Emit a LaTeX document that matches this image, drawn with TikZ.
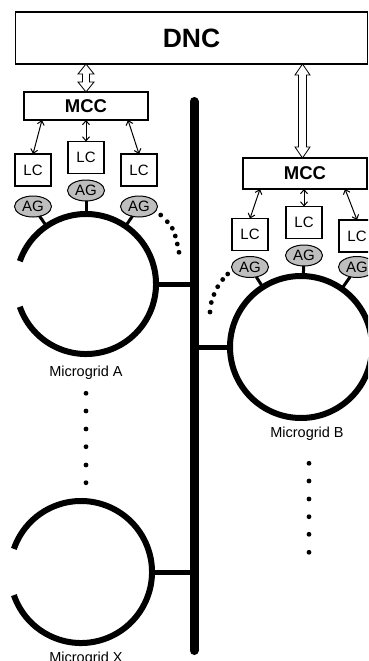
\documentclass[tikz,border=0pt]{standalone}
\usepackage{fontspec}
\setmainfont{Liberation Sans}
\usetikzlibrary{calc,arrows.meta,shapes.geometric}
\definecolor{aggray}{RGB}{190,190,190}
\begin{document}
\begin{tikzpicture}[x=1pt,y=-1pt,
  box/.style={draw, line width=1.1pt, fill=white, inner sep=0pt, outer sep=0pt},
  lcbox/.style={box, minimum width=36pt, minimum height=32pt, font=\fontsize{15}{15}\selectfont},
  agnode/.style={ellipse, draw, line width=1pt, fill=aggray, minimum width=37pt, minimum height=21pt, inner sep=0pt, outer sep=0pt, font=\fontsize{15}{15}\selectfont},
  mccbox/.style={box, minimum width=124pt, font=\fontsize{18.5}{18.5}\selectfont\bfseries},
  gridshape/.style={circle, draw=none, inner sep=0pt, outer sep=0pt},
  ring/.style={line width=6pt},
  tie/.style={line width=5pt},
  stem/.style={line width=3pt},
  ctl/.style={line width=1pt, {Straight Barb[length=4pt,width=7pt]}-{Straight Barb[length=4pt,width=7pt]}},
  hollow/.style={draw, fill=white, line width=0.8pt, line join=miter},
  gridlabel/.style={anchor=base, font=\fontsize{14.5}{14.5}\selectfont},
  bigdot/.style={fill=black}
]
\useasboundingbox (0,0) rectangle (368,661);
\clip (0,0) rectangle (368,661);

% DNC
\node[box, minimum width=352pt, minimum height=52pt, font=\fontsize{26.5}{26.5}\selectfont\bfseries] (dnc) at (191.5,38) {DNC};

% MCCs
\node[mccbox, minimum height=28pt] (mccA) at (86,106) {MCC};
\node[mccbox, minimum height=31pt] (mccB) at (305,173.5) {MCC};

% Bus
\coordinate (busT) at (194,101.5);
\coordinate (busB) at (194,650.5);
\draw[line width=9pt, line cap=round] (busT) -- (busB);

% Hollow double arrows
\coordinate (hA1) at (mccA.north |- dnc.south);
\coordinate (hA2) at (mccA.north);
\path[hollow] (hA1) -- ($(hA1)+(8,10)$) -- ($(hA1)+(3.5,10)$) -- ($(hA2)+(3.5,-10)$) -- ($(hA2)+(8,-10)$) -- (hA2)
  -- ($(hA2)+(-8,-10)$) -- ($(hA2)+(-3.5,-10)$) -- ($(hA1)+(-3.5,10)$) -- ($(hA1)+(-8,10)$) -- cycle;
\coordinate (hB2) at ($(mccB.north)+(-2.5,0)$);
\coordinate (hB1) at (hB2 |- dnc.south);
\path[hollow] (hB1) -- ($(hB1)+(7.5,11)$) -- ($(hB1)+(4,11)$) -- ($(hB2)+(4,-11)$) -- ($(hB2)+(7.5,-11)$) -- (hB2)
  -- ($(hB2)+(-7.5,-11)$) -- ($(hB2)+(-4,-11)$) -- ($(hB1)+(-4,11)$) -- ($(hB1)+(-7.5,11)$) -- cycle;

% Microgrid shapes
\node[gridshape, minimum size=140pt] (gA) at (86,284) {};
\node[gridshape, minimum size=142pt] (gB) at (301,347) {};
\node[gridshape, minimum size=142pt] (gX) at (81,572) {};
\draw[ring] (gA.center) ++(161:70) arc[start angle=161, end angle=-161, radius=70];
\draw[ring] (gX.center) ++(161:71) arc[start angle=161, end angle=-161, radius=71];
\draw[ring] (gB.center) circle[radius=71];

% ties to bus
\draw[tie] (gA.east) -- (gA.east -| busT);
\draw[tie] (gX.east) -- (gX.east -| busT);
\draw[tie] (gB.west) -- (gB.west -| busT);

% LCs A
\node[lcbox] (lcA1) at (33,170) {LC};
\node[lcbox] (lcA2) at (86,157.5) {LC};
\node[lcbox] (lcA3) at (139,170) {LC};
% LCs B
\node[lcbox] (lcB1) at (250,234.5) {LC};
\node[lcbox] (lcB2) at (304,222.5) {LC};
\node[lcbox] (lcB3) at (357,236) {LC};

% control arrows
\draw[ctl] ($(mccA.south)+(-44,0)$) -- (lcA1.north);
\draw[ctl] (mccA.south) -- (lcA2.north);
\draw[ctl] ($(mccA.south)+(42,0)$) -- (lcA3.north);
\draw[ctl] ($(mccB.south)+(-45,0)$) -- (lcB1.north);
\draw[ctl] (lcB2.north |- mccB.south) -- (lcB2.north);
\draw[ctl] ($(mccB.south)+(40,0)$) -- (lcB3.north);

% AGs
\node[agnode] (agA1) at (33,206.5) {AG};
\node[agnode] (agA2) at (86,190.5) {AG};
\node[agnode] (agA3) at (139,206.5) {AG};
\node[agnode] (agB1) at (250,267) {AG};
\node[agnode] (agB2) at (304,255.5) {AG};
\node[agnode] (agB3) at (357,267) {AG};

% stems
\foreach \g/\a in {gA/agA1, gA/agA2, gA/agA3}
  \draw[stem] (\a) -- ($(\g.center)!70pt!(\a.center)$);
\foreach \g/\a in {gB/agB1, gB/agB2, gB/agB3}
  \draw[stem] (\a) -- ($(\g.center)!71pt!(\a.center)$);

% dotted arcs
\foreach \p in {(160.7,215),(167.3,221.7),(172.3,228.3),(175.3,236),(177.3,244),(179,252.3)}
  \fill[bigdot] \p circle[radius=2.4];
\foreach \p in {(227.7,274),(222.7,279.5),(217.7,286.7),(214,294.5),(211.3,302.5),(210,312)}
  \fill[bigdot] \p circle[radius=2.4];

% vertical dots
\foreach \y in {393.3,411,429,446.7,465,482.7}
  \fill[bigdot] (86,\y) circle[radius=2.4];
\foreach \y in {463.3,481,499,516.7,534.3,552.3}
  \fill[bigdot] (309,\y) circle[radius=2.4];

% labels
\node[gridlabel] (labA) at (86,376.7) {Microgrid A};
\node[gridlabel] (labB) at (307,437.7) {Microgrid B};
\node[gridlabel] (labX) at (86,662.5) {Microgrid X};
\end{tikzpicture}
\end{document}
